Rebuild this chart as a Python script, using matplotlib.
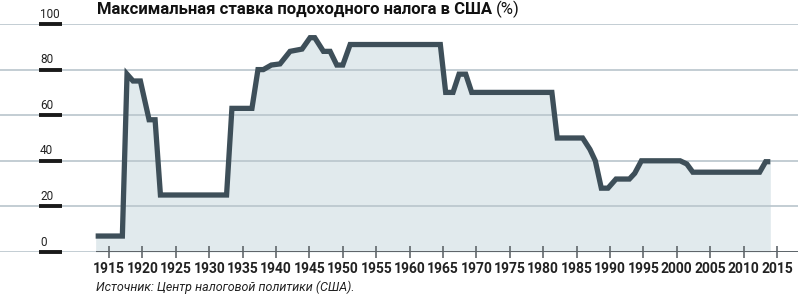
import matplotlib
matplotlib.use("Agg")
import matplotlib.pyplot as plt
from matplotlib import font_manager

# vertices of the rate line (year, top rate %)
years = [1913, 1917, 1917.7, 1918.6, 1919.7, 1921.0, 1921.9, 1922.7, 1932.6,
         1933.4, 1936.4, 1937.3, 1938.1, 1939.3, 1940.6, 1942.1, 1943.9,
         1945.1, 1945.8, 1947.1, 1948.1, 1949.1, 1950.0, 1951.1, 1964.6,
         1965.4, 1966.5, 1967.4, 1968.4, 1969.3, 1981.3, 1982.1, 1985.9,
         1987.0, 1987.8, 1988.7, 1989.7, 1990.9, 1992.9, 1993.7, 1994.7,
         2000.5, 2001.5, 2002.4, 2012.4, 2013.3, 2014]
rates = [7, 7, 78, 75, 75, 58, 58, 25, 25,
         63, 63, 80, 80, 82, 82.5, 88, 89,
         94, 94, 88, 88, 82, 82, 91, 91,
         70, 70, 78, 78, 70, 70, 50, 50,
         45, 40, 28, 28, 32, 32, 34.5, 40,
         40, 38.6, 35, 35, 39.6, 39.6]

xticks = list(range(1915, 2016, 5))
yticks = [0, 20, 40, 60, 80, 100]

title = "Максимальная ставка подоходного налога в США"
title_unit = "(%)"
source = "Источник: Центр налоговой политики (США)."

available = {f.name for f in font_manager.fontManager.ttflist}
narrow = "Liberation Sans Narrow" if "Liberation Sans Narrow" in available else "Roboto"
plt.rcParams["font.family"] = [narrow, "DejaVu Sans"]

LINE = "#3e4f59"
FILL = "#e1eaed"
GRID = "#b9c5cc"
AXIS = "#555b60"

W, H = 798, 297
fig = plt.figure(figsize=(W / 100, H / 100), dpi=100)
# axes spans the full width; y 0 at 252 px, 100 at 24 px from the top
ax = fig.add_axes([0, (H - 252) / H, 1, (252 - 24) / H])
px_per_year = 6.68
x0 = 1915 - 109 / px_per_year
x1 = 1915 + (W - 109) / px_per_year
ax.set_xlim(x0, x1)
ax.set_ylim(0, 100)
for s in ax.spines.values():
    s.set_visible(False)

ax.fill_between(years, rates, 0, color=FILL, lw=0, zorder=1)
for v in yticks:
    ax.axhline(v, color=GRID, lw=1.2, zorder=2)
ax.hlines(0, years[0], x1, color=AXIS, lw=1.3, zorder=3)
ax.plot(years, rates, color=LINE, lw=3.8, solid_joinstyle="miter",
        solid_capstyle="butt", zorder=4, clip_on=False)

# y labels with black bars sitting on the grid lines
ytr = ax.get_yaxis_transform()
for v in yticks:
    ax.plot([39 / W, 62 / W], [v, v], color="#1a1a1a", lw=2.8,
            transform=ytr, solid_capstyle="butt", zorder=5, clip_on=False)
    ax.annotate(str(v), (40 / W, v), xycoords=ytr, xytext=(0, 2.5),
                textcoords="offset points", ha="left", va="bottom",
                fontsize=8.5, color="#222222")
ax.set_yticks([])

ax.set_xticks(xticks)
ax.set_xticklabels([str(x) for x in xticks], fontweight="bold", fontsize=10)
ax.tick_params(axis="x", direction="inout", length=9, width=1.1,
               color=AXIS, labelcolor="#222222", pad=2.5)

fig.canvas.draw()
r = fig.canvas.get_renderer()
t = fig.text(97 / W, 1 - 14 / H, title, fontsize=12, fontweight="bold",
             ha="left", va="baseline", color="#111111")
bb = t.get_window_extent(r)
fig.text(bb.x1 / W + 4 / W, 1 - 14 / H, title_unit, fontsize=12,
         ha="left", va="baseline", color="#111111")
fig.text(96 / W, 1 - 291 / H, source, fontsize=9, style="italic",
         ha="left", va="baseline", color="#222222")

fig.savefig("out.png", dpi=100)
